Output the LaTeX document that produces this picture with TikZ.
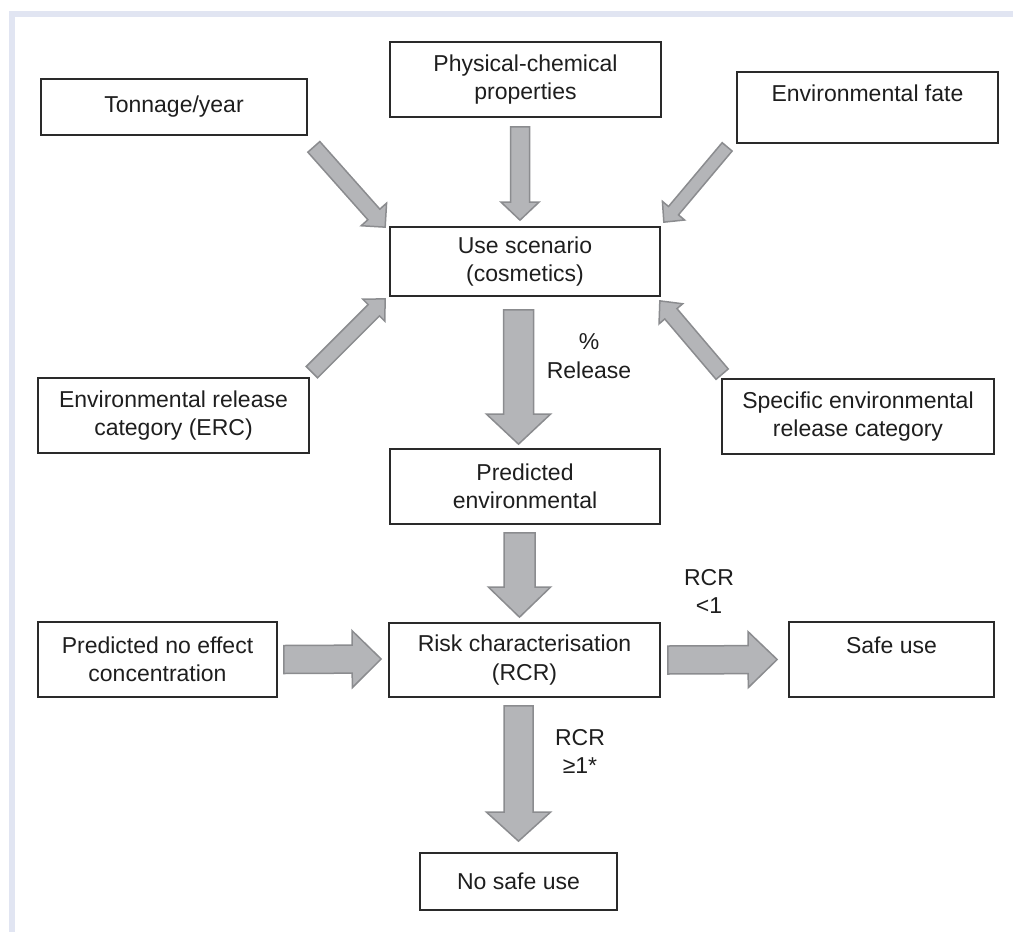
\documentclass[tikz,border=0pt]{standalone}
\usepackage{fontspec}
\setmainfont{Liberation Sans}
\usetikzlibrary{calc}
\definecolor{framec}{HTML}{E1E5F2}
\definecolor{arrfill}{HTML}{B4B5B8}
\definecolor{arrline}{HTML}{8B8C8F}
\definecolor{boxline}{HTML}{2A2A2A}
\definecolor{txt}{HTML}{1E1E1E}
\newcommand\blockarr[5]{%
  \coordinate (bas) at #1;
  \coordinate (bae) at #2;
  \coordinate (bac) at ($(bae)!#5!(bas)$);
  \draw[blockarrow] ($(bas)!#3!90:(bae)$) -- ($(bac)!#3!90:(bae)$) -- ($(bac)!#4!90:(bae)$) -- (bae) -- ($(bac)!#4!-90:(bae)$) -- ($(bac)!#3!-90:(bae)$) -- ($(bas)!#3!-90:(bae)$) -- cycle;}
\tikzset{
  box/.style={draw=boxline, line width=1.7pt, rectangle, inner sep=0pt, align=center, text=txt, font=\fontsize{23}{28.5}\selectfont},
  lbl/.style={inner sep=0pt, align=center, text=txt, font=\fontsize{23}{28.5}\selectfont},
  blockarrow/.style={fill=arrfill, draw=arrline, line width=1.5pt, line join=miter}
}
\begin{document}
\begin{tikzpicture}[x=1pt,y=-1pt]
\useasboundingbox (0,0) rectangle (1013,932);
\fill[framec] (9,11) rectangle (1013,17);
\fill[framec] (9,11) rectangle (15,932);

\node[box, minimum width=266pt, minimum height=56pt] (ton) at (174,107) {Tonnage/year};
\node[box, minimum width=271pt, minimum height=75pt] (phys) at (525.5,79.5) {Physical-chemical\\properties};
\node[box, minimum width=261pt, minimum height=71pt] (env) at (867.5,107.5) {Environmental fate\\ \mbox{}};
\node[box, minimum width=270pt, minimum height=69pt] (use) at (525,261.5) {Use scenario\\(cosmetics)};
\node[box, minimum width=271pt, minimum height=75pt] (erc) at (173.5,415.5) {Environmental release\\category (ERC)};
\node[box, minimum width=272pt, minimum height=75pt] (spec) at (858,416.5) {Specific environmental\\release category};
\node[box, minimum width=270pt, minimum height=75pt] (pred) at (525,486.5) {Predicted\\environmental};
\node[box, minimum width=239pt, minimum height=75pt] (pnec) at (157.5,659.5) {Predicted no effect\\concentration};
\node[box, minimum width=271pt, minimum height=74pt] (risk) at (524.5,660) {Risk characterisation\\(RCR)};
\node[box, minimum width=205pt, minimum height=75pt] (safe) at (891.5,659.5) {Safe use\\ \mbox{}};
\node[box, minimum width=197pt, minimum height=57pt] (nosafe) at (518.5,881.5) {No safe use};

\node[lbl] (lrel) at (589,356) {\%\\Release};
\node[lbl] (llt) at (709,591.5) {RCR\\<1};
\node[lbl] (lge) at (580,751.5) {RCR\\≥1*};

\blockarr{($(ton.south east)+(6,11)$)}{($(use.north west)+(-4,1)$)}{8pt}{17pt}{17pt}
\blockarr{($(phys.south)+(-5.5,9)$)}{($(use.north)+(-5,-6)$)}{9.5pt}{19pt}{18pt}
\blockarr{($(env.south west)+(-9,3)$)}{($(use.north east)+(3,-4)$)}{6.5pt}{14.5pt}{15pt}
\blockarr{($(erc.north east)+(2,-5)$)}{($(use.south west)+(-4,2)$)}{8pt}{15.5pt}{16pt}
\blockarr{($(spec.north west)+(1,-4)$)}{($(use.south east)+(-1,4)$)}{8pt}{15.5pt}{17pt}
\blockarr{($(use.south)+(-6.5,13)$)}{($(pred.north)+(-6.5,-4)$)}{15pt}{32pt}{30pt}
\blockarr{($(pred.south)+(-5.5,8)$)}{($(risk.north)+(-5,-5)$)}{15.5pt}{31pt}{30pt}
\blockarr{($(pnec.east)+(6,0)$)}{($(risk.west)+(-7,-1)$)}{14pt}{28.5pt}{29pt}
\blockarr{($(risk.east)+(7,0)$)}{($(safe.west)+(-11,0)$)}{14pt}{28pt}{29pt}
\blockarr{($(risk.south)+(-6,8)$)}{($(nosafe.north)+(0,-11)$)}{14.5pt}{32pt}{29pt}
\end{tikzpicture}
\end{document}
